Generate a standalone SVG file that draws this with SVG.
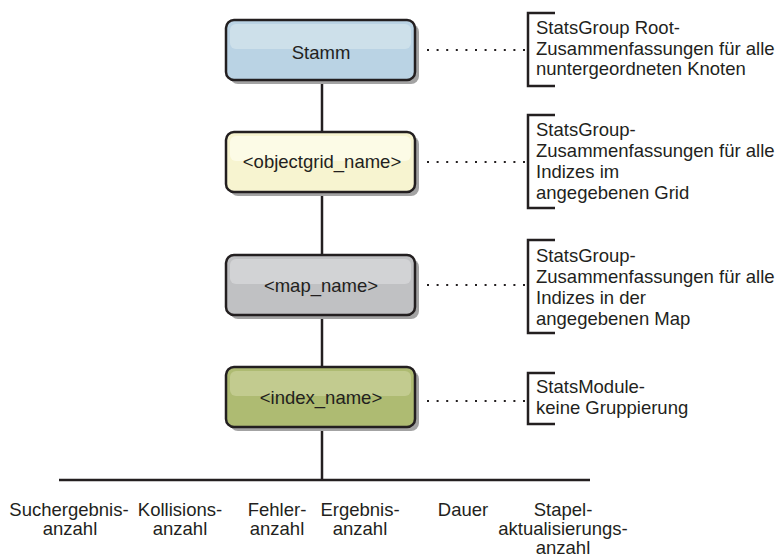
<svg xmlns="http://www.w3.org/2000/svg" width="779" height="558" viewBox="0 0 779 558">
<style>
text{font-family:"Liberation Sans",Arial,sans-serif;font-size:18.5px;fill:#231f20}
.c{text-anchor:middle}
.box{stroke:#231f20;stroke-width:2.5}
.sh{fill:#a3a3a3}
.ln{stroke:#231f20;stroke-width:2.5;fill:none}
.dot{stroke:#231f20;stroke-width:2;stroke-dasharray:2 7.6;fill:none}
.br{stroke:#231f20;stroke-width:2.5;fill:none}
</style>
<rect width="779" height="558" fill="#fff"/>
<g id="connectors">
<line class="ln" x1="322" y1="80" x2="322" y2="132"/>
<line class="ln" x1="322" y1="192" x2="322" y2="255"/>
<line class="ln" x1="322" y1="315" x2="322" y2="367"/>
<line class="ln" x1="322" y1="427" x2="322" y2="480"/>
<line class="ln" x1="59" y1="480" x2="590" y2="480"/>
<line class="dot" x1="427" y1="50" x2="526" y2="50"/>
<line class="dot" x1="427" y1="162" x2="526" y2="162"/>
<line class="dot" x1="427" y1="285" x2="526" y2="285"/>
<line class="dot" x1="427" y1="401" x2="526" y2="401"/>
</g>
<g id="stamm">
<rect class="sh" x="230" y="24" width="189" height="60" rx="8"/>
<rect class="box" x="226" y="20" width="189" height="60" rx="8" fill="#bad3e4"/>
<rect x="230" y="24" width="181" height="25" rx="6" fill="#cde0ea"/>
<text class="c" x="321" y="59">Stamm</text>
</g>
<g id="objectgrid">
<rect class="sh" x="230" y="136" width="189" height="60" rx="8"/>
<rect class="box" x="226" y="132" width="189" height="60" rx="8" fill="#f7f4d0"/>
<rect x="230" y="136" width="181" height="25" rx="6" fill="#fcfbe6"/>
<text class="c" x="322" y="168">&lt;objectgrid_name&gt;</text>
</g>
<g id="map">
<rect class="sh" x="230" y="259" width="189" height="60" rx="8"/>
<rect class="box" x="226" y="255" width="189" height="60" rx="8" fill="#c0c1c3"/>
<rect x="230" y="259" width="181" height="25" rx="6" fill="#d2d3d5"/>
<text class="c" x="321" y="292">&lt;map_name&gt;</text>
</g>
<g id="index">
<rect class="sh" x="230" y="371" width="189" height="60" rx="8"/>
<rect class="box" x="226" y="367" width="189" height="60" rx="8" fill="#aebb72"/>
<rect x="230" y="371" width="181" height="25" rx="6" fill="#c2cb8f"/>
<text class="c" x="321" y="404">&lt;index_name&gt;</text>
</g>
<g id="note1">
<polyline class="br" points="555,13 528,13 528,86 555,86"/>
<text x="536" y="34">StatsGroup Root-</text>
<text x="536" y="55">Zusammenfassungen für alle</text>
<text x="536" y="75">nuntergeordneten Knoten</text>
</g>
<g id="note2">
<polyline class="br" points="555,115 528,115 528,208 555,208"/>
<text x="536" y="136">StatsGroup-</text>
<text x="536" y="157">Zusammenfassungen für alle</text>
<text x="536" y="178">Indizes im</text>
<text x="536" y="199">angegebenen Grid</text>
</g>
<g id="note3">
<polyline class="br" points="555,240 528,240 528,333 555,333"/>
<text x="536" y="262">StatsGroup-</text>
<text x="536" y="283">Zusammenfassungen für alle</text>
<text x="536" y="304">Indizes in der</text>
<text x="536" y="325">angegebenen Map</text>
</g>
<g id="note4">
<polyline class="br" points="555,373 528,373 528,424 555,424"/>
<text x="536" y="393">StatsModule-</text>
<text x="536" y="414">keine Gruppierung</text>
</g>
<g id="leaf1"><text class="c" x="69" y="516">Suchergebnis-</text><text class="c" x="70" y="535">anzahl</text></g>
<g id="leaf2"><text class="c" x="180" y="516">Kollisions-</text><text class="c" x="180" y="535">anzahl</text></g>
<g id="leaf3"><text class="c" x="277" y="516">Fehler-</text><text class="c" x="277" y="535">anzahl</text></g>
<g id="leaf4"><text class="c" x="360" y="516">Ergebnis-</text><text class="c" x="360" y="535">anzahl</text></g>
<g id="leaf5"><text class="c" x="463" y="516">Dauer</text></g>
<g id="leaf6"><text class="c" x="563" y="516">Stapel-</text><text class="c" x="563" y="535">aktualisierungs-</text><text class="c" x="563" y="554">anzahl</text></g>
</svg>
